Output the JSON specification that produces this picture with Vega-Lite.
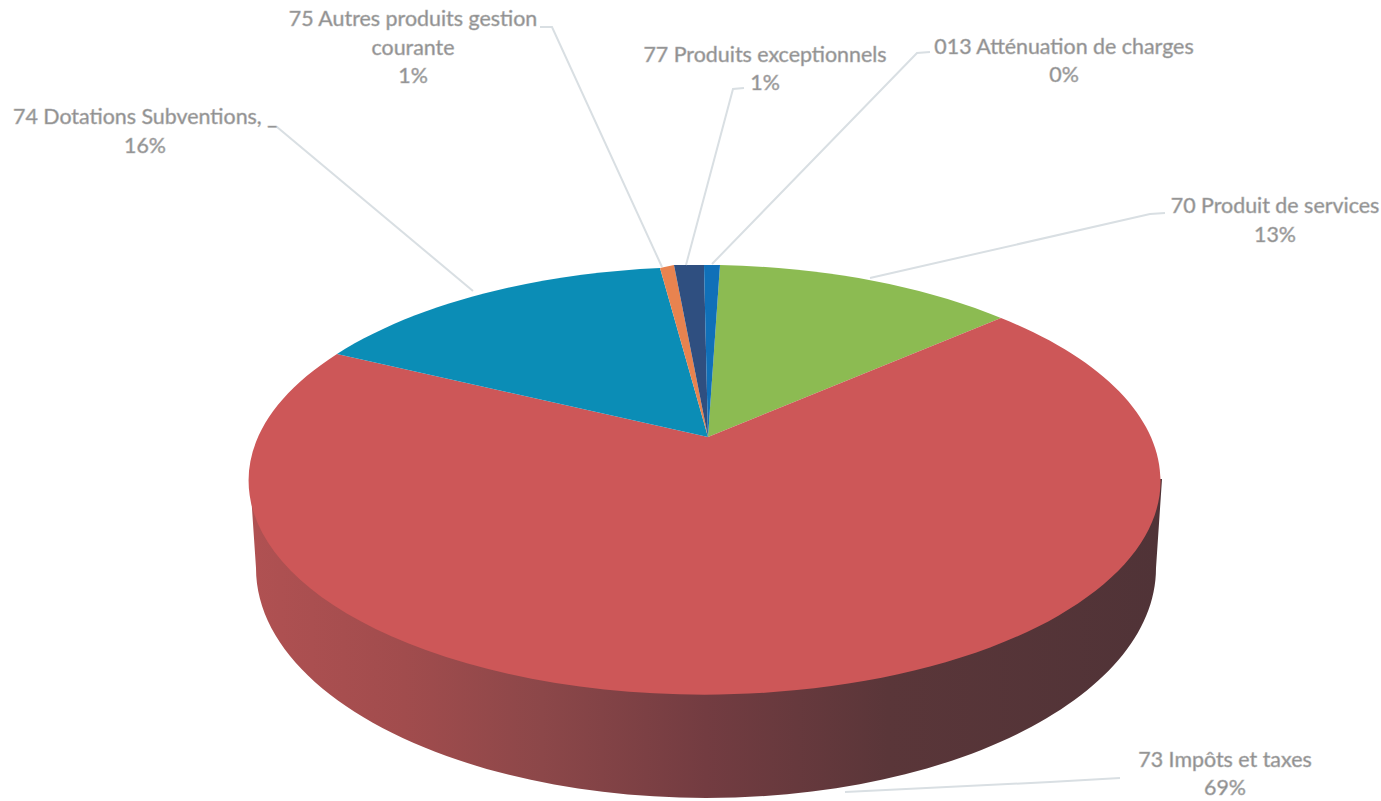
{"$schema":"https://vega.github.io/schema/vega-lite/v6.json","width":1381,"height":801,"padding":0,"autosize":"none","background":"white","config":{"view":{"stroke":null}},
"data":{"values":[
{"poste":"70","label":"70 Produit de services","part":13},
{"poste":"73","label":"73 Impôts et taxes","part":69},
{"poste":"74","label":"74 Dotations Subventions, _","part":16},
{"poste":"75","label":"75 Autres produits gestion\ncourante","part":1},
{"poste":"77","label":"77 Produits exceptionnels","part":1},
{"poste":"013","label":"013 Atténuation de charges","part":0}
]},
"transform":[{"calculate":"datum.label + '\\n' + datum.part + '%'","as":"texte"}],
"resolve":{"scale":{"shape":"independent","color":"independent"}},
"encoding":{
"x":{"datum":0,"type":"quantitative","scale":{"domain":[0,1381]},"axis":null},
"y":{"datum":0,"type":"quantitative","scale":{"domain":[801,0]},"axis":null}
},
"layer":[
{"transform":[{"filter":{"field":"poste","equal":"73"}}],
"mark":{"type":"point","filled":true,"opacity":1,"size":4,"stroke":null,"shape":"M250,479 L256,568 A450,230 0 0 0 1156,568 L1162,479 Z",
"color":{"gradient":"linear","x1":0,"y1":0,"x2":1,"y2":0,"stops":[{"offset":0,"color":"#b05152"},{"offset":0.17,"color":"#a14c4d"},{"offset":0.32,"color":"#8c4749"},{"offset":0.5,"color":"#733c41"},{"offset":0.7,"color":"#5a3639"},{"offset":1,"color":"#503337"}]}}},
{"mark":{"type":"point","filled":true,"opacity":1,"size":4,"stroke":null},
"encoding":{
"shape":{"field":"poste","type":"nominal","legend":null,"scale":{"domain":["70","73","74","75","77","013"],"range":[
"M708,437 L720,265 A456,214 0 0 1 1001,318 Z",
"M708,437 L1001,318 A456,214 0 1 1 337,354 Z",
"M708,437 L337,354 A456,214 0 0 1 660,268 Z",
"M708,437 L660,268 A456,214 0 0 1 674,265 Z",
"M708,437 L674,265 A456,214 0 0 1 704,265 Z",
"M708,437 L704,265 A456,214 0 0 1 720,265 Z"]}},
"color":{"field":"poste","type":"nominal","legend":null,"scale":{"domain":["70","73","74","75","77","013"],"range":["#8cbb52","#cd5758","#0b8db6","#e8834f","#2f4f80","#1070b8"]}}
}},
{"mark":{"type":"point","filled":false,"opacity":1,"size":4,"strokeWidth":2,"stroke":"#d9dfe3"},
"encoding":{
"shape":{"field":"poste","type":"nominal","legend":null,"scale":{"domain":["70","73","74","75","77","013"],"range":[
"M1165,213 L1150,214 L870,278",
"M1120,778 L1050,782 L845,792",
"M268,127 L277,127 L473,291",
"M540,27 L552,27 L662,267",
"M744,88 L733,89 L686,265",
"M930,52 L917,53 L712,264"]}}
}},
{"transform":[{"filter":{"field":"poste","equal":"70"}}],"mark":{"type":"text","font":"Lato","fontSize":21.4,"fill":"#8a8a8a","stroke":"#b4b4b4","strokeWidth":0.6,"lineBreak":"\n","lineHeight":29,"baseline":"middle","align":"center"},"encoding":{"x":{"datum":1275,"type":"quantitative"},"y":{"datum":207,"type":"quantitative"},"text":{"field":"texte"}}},
{"transform":[{"filter":{"field":"poste","equal":"73"}}],"mark":{"type":"text","font":"Lato","fontSize":21.4,"fill":"#8a8a8a","stroke":"#b4b4b4","strokeWidth":0.6,"lineBreak":"\n","lineHeight":28,"baseline":"middle","align":"center"},"encoding":{"x":{"datum":1225,"type":"quantitative"},"y":{"datum":761,"type":"quantitative"},"text":{"field":"texte"}}},
{"transform":[{"filter":{"field":"poste","equal":"74"}}],"mark":{"type":"text","font":"Lato","fontSize":21.4,"fill":"#8a8a8a","stroke":"#b4b4b4","strokeWidth":0.6,"lineBreak":"\n","lineHeight":29,"baseline":"middle","align":"center"},"encoding":{"x":{"datum":145,"type":"quantitative"},"y":{"datum":118,"type":"quantitative"},"text":{"field":"texte"}}},
{"transform":[{"filter":{"field":"poste","equal":"75"}}],"mark":{"type":"text","font":"Lato","fontSize":21.4,"fill":"#8a8a8a","stroke":"#b4b4b4","strokeWidth":0.6,"lineBreak":"\n","lineHeight":28.5,"baseline":"middle","align":"center"},"encoding":{"x":{"datum":413,"type":"quantitative"},"y":{"datum":20,"type":"quantitative"},"text":{"field":"texte"}}},
{"transform":[{"filter":{"field":"poste","equal":"77"}}],"mark":{"type":"text","font":"Lato","fontSize":21.4,"fill":"#8a8a8a","stroke":"#b4b4b4","strokeWidth":0.6,"lineBreak":"\n","lineHeight":28,"baseline":"middle","align":"center"},"encoding":{"x":{"datum":765,"type":"quantitative"},"y":{"datum":56,"type":"quantitative"},"text":{"field":"texte"}}},
{"transform":[{"filter":{"field":"poste","equal":"013"}}],"mark":{"type":"text","font":"Lato","fontSize":21.4,"fill":"#8a8a8a","stroke":"#b4b4b4","strokeWidth":0.6,"lineBreak":"\n","lineHeight":28,"baseline":"middle","align":"center"},"encoding":{"x":{"datum":1064,"type":"quantitative"},"y":{"datum":48,"type":"quantitative"},"text":{"field":"texte"}}}
]}
